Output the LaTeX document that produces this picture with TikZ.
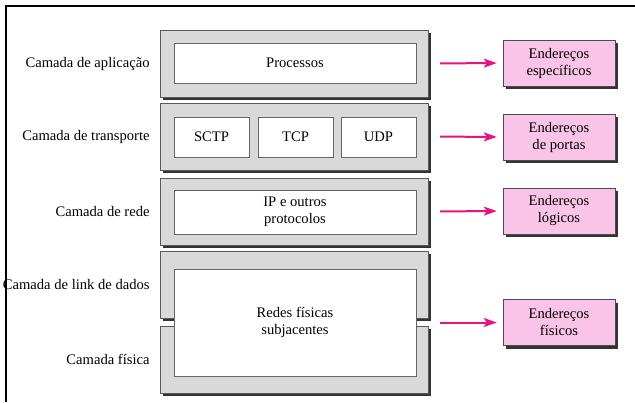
\documentclass[tikz,border=0pt]{standalone}
\usepackage{fontspec}
\setmainfont{Liberation Serif}
\usepackage{tikz}
\usetikzlibrary{%
	positioning,%
	shadows,%
	arrows.meta
}
\definecolor{layergray}{rgb}{0.85, 0.85, 0.85}
\definecolor{addrpink}{rgb}{0.98, 0.77, 0.91}
\definecolor{arrowmagenta}{rgb}{0.90, 0.08, 0.50}

\begin{document}
\begin{tikzpicture}[x=1pt,y=-1pt,
		every node/.style={font=\fontsize{14.6}{17}\selectfont, inner sep=0pt},
		layerbox/.style={draw=black!65, fill=layergray, minimum width=268pt, minimum height=67pt,
			drop shadow={shadow xshift=2.5pt, shadow yshift=-2.5pt, fill=black!80, opacity=1}},
		protobox/.style={draw=black!60, fill=white, minimum height=40pt},
		addrbox/.style={draw=black!70, fill=addrpink, minimum width=112pt, minimum height=46pt, align=center,
			drop shadow={shadow xshift=3pt, shadow yshift=-3pt, fill=black!80, opacity=1}},
		layerlabel/.style={left=10pt of #1},
		addrarrow/.style={arrowmagenta, line width=2pt, -{Stealth[length=13pt,width=9pt,inset=3pt]},
			shorten <=12pt, shorten >=6pt}
	]
	\useasboundingbox (0,0) rectangle (635,402);
	
	% Layers
	\node[layerbox] (app) at (294,63.5) {};
	\node[layerbox] (trans) at (294,136.5) {};
	\node[layerbox] (rede) at (294,211.5) {};
	\node[layerbox] (link) at (294,285) {};
	\node[layerbox] (fis) at (294,359.5) {};
	
	% Protocols
	\node[protobox, minimum width=242pt] (proc) at (295,63) {Processos};
	\node[protobox, minimum width=75pt] (sctp) at (211.5,137) {SCTP};
	\node[protobox, minimum width=75pt] (tcp) at (295.5,137) {TCP};
	\node[protobox, minimum width=75pt] (udp) at (378.5,137) {UDP};
	\node[protobox, minimum width=242pt, minimum height=44pt, align=center] (ip) at (295,212) {IP e outros\\protocolos};
	\node[protobox, minimum width=242pt, minimum height=107pt, align=center] (redes) at (295,322.5) {Redes físicas\\subjacentes};
	
	% Layer names
	\node[layerlabel=app] (appname) {Camada de aplicação};
	\node[layerlabel=trans] (transname) {Camada de transporte};
	\node[layerlabel=rede] (redename) {Camada de rede};
	\node[layerlabel=link] (linkname) {Camada de link de dados};
	\node[layerlabel=fis] (fisname) {Camada física};
	
	% Addresses
	\node[addrbox] (espec) at (559,63) {Endereços\\específicos};
	\node[addrbox] (portas) at (559,137) {Endereços\\de portas};
	\node[addrbox] (logicos) at (559,211) {Endereços\\lógicos};
	\node[addrbox] (fisicos) at (559,322.5) {Endereços\\físicos};
	
	\coordinate (linkfis) at (428,322.5);
	\draw[addrarrow] (app.east) -- (espec.west);
	\draw[addrarrow] (trans.east) -- (portas.west);
	\draw[addrarrow] (rede.east) -- (logicos.west);
	\draw[addrarrow] (linkfis) -- (fisicos.west);
	
	% Frame
	\draw[line width=1.5pt] (6,402) -- (6,6) -- (635,6);
\end{tikzpicture}
\end{document}
